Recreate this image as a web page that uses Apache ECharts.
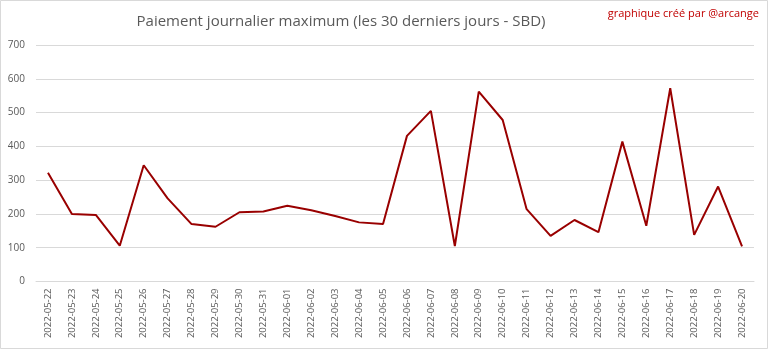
<!DOCTYPE html>
<html>
<head>
<meta charset="utf-8">
<script src="https://cdn.jsdelivr.net/npm/echarts@6/dist/echarts.min.js"></script>
<style>
  html, body { margin: 0; padding: 0; background: #fff; }
  #chart { width: 768px; height: 349px; }
</style>
</head>
<body>
<div id="chart"></div>
<script>
// Daily maximum payout over the last 30 days (SBD)
const dates = [
  '2022-05-22', '2022-05-23', '2022-05-24', '2022-05-25', '2022-05-26',
  '2022-05-27', '2022-05-28', '2022-05-29', '2022-05-30', '2022-05-31',
  '2022-06-01', '2022-06-02', '2022-06-03', '2022-06-04', '2022-06-05',
  '2022-06-06', '2022-06-07', '2022-06-08', '2022-06-09', '2022-06-10',
  '2022-06-11', '2022-06-12', '2022-06-13', '2022-06-14', '2022-06-15',
  '2022-06-16', '2022-06-17', '2022-06-18', '2022-06-19', '2022-06-20'
];
const maxPayout = [
  322, 200, 197, 106, 344, 246, 170, 162, 205, 207,
  224, 211, 194, 175, 170, 431, 505, 105, 562, 478,
  214, 135, 182, 146, 414, 165, 572, 138, 281, 104
];
const yTicks = { min: 0, max: 700, interval: 100 };

const chart = echarts.init(document.getElementById('chart'), null, { renderer: 'canvas' });
chart.setOption({
  animation: false,
  backgroundColor: '#ffffff',
  textStyle: { fontFamily: 'Open Sans, sans-serif' },
  graphic: [
    {
      type: 'rect',
      shape: { x: 0.5, y: 0.5, width: 767, height: 348 },
      style: { fill: 'none', stroke: '#d9d9d9', lineWidth: 1 },
      silent: true
    },
    {
      type: 'text',
      x: 341, y: 22,
      style: {
        text: 'Paiement journalier maximum (les 30 derniers jours - SBD)',
        fill: '#595959',
        font: '15px "Open Sans", sans-serif',
        align: 'center',
        verticalAlign: 'middle'
      }
    },
    {
      type: 'text',
      x: 759, y: 14,
      style: {
        text: 'graphique créé par @arcange',
        fill: '#c00000',
        font: '11px "Open Sans", sans-serif',
        align: 'right',
        verticalAlign: 'middle'
      }
    }
  ],
  grid: { left: 36, right: 14, top: 45, bottom: 67.5, containLabel: false },
  xAxis: {
    type: 'category',
    data: dates,
    boundaryGap: true,
    axisLine: { show: true, lineStyle: { color: '#d9d9d9', width: 1 } },
    axisTick: { show: false },
    axisLabel: {
      rotate: 90,
      interval: 0,
      color: '#595959',
      fontSize: 9.5,
      margin: 7
    }
  },
  yAxis: {
    type: 'value',
    min: yTicks.min,
    max: yTicks.max,
    interval: yTicks.interval,
    axisLine: { show: false },
    axisTick: { show: false },
    splitLine: { lineStyle: { color: '#d9d9d9', width: 1 } },
    axisLabel: { color: '#595959', fontSize: 10, margin: 11 }
  },
  series: [{
    type: 'line',
    data: maxPayout,
    symbol: 'none',
    lineStyle: { color: '#990000', width: 2 },
    itemStyle: { color: '#990000' }
  }]
});
</script>
</body>
</html>
